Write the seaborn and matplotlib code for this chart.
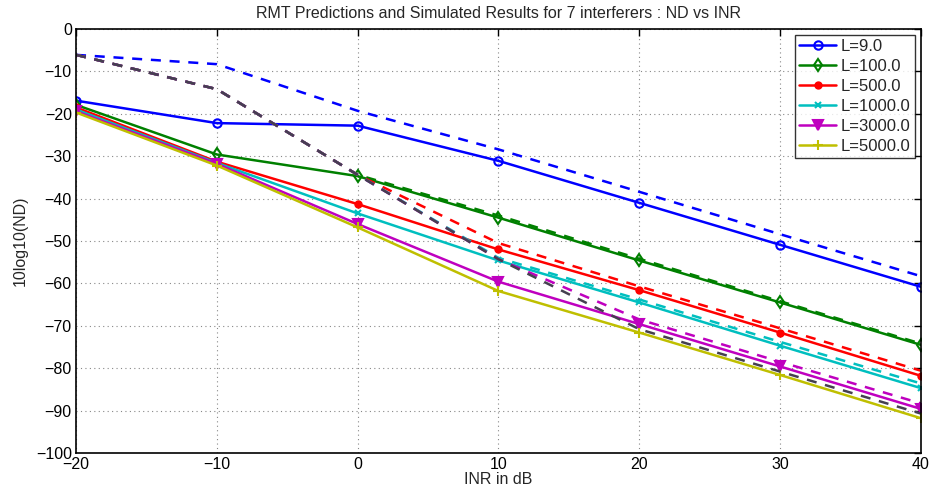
import matplotlib
matplotlib.use("Agg")
import matplotlib.pyplot as plt
import seaborn as sns
import numpy as np

sns.set_style("white")
plt.rcParams['font.family'] = ['Liberation Sans', 'DejaVu Sans']

inr = [-20, -10, 0, 10, 20, 30, 40]
labels = ["L=9.0", "L=100.0", "L=500.0", "L=1000.0", "L=3000.0", "L=5000.0"]

sim_L9 = [-16.9, -22.2, -22.8, -31.1, -41.0, -50.9, -60.8]
sim_L100 = [-17.9, -29.6, -34.7, -44.5, -54.6, -64.5, -74.5]
sim_L500 = [-18.5, -31.3, -41.3, -52.0, -61.6, -71.6, -81.8]
sim_L1000 = [-19.0, -31.6, -43.5, -54.6, -64.5, -74.7, -84.7]
sim_L3000 = [-19.4, -31.8, -46.0, -59.6, -69.6, -79.6, -89.6]
sim_L5000 = [-19.7, -32.2, -46.8, -61.8, -71.6, -81.6, -91.8]

rmt_L9 = [-6.1, -8.3, -19.3, -28.4, -38.4, -48.4, -58.3]
rmt_L100 = [-6.1, -14.2, -34.4, -44.0, -54.2, -64.2, -74.2]
rmt_L500 = [-6.1, -14.2, -34.4, -50.5, -60.7, -70.6, -80.6]
rmt_L1000 = [-6.1, -14.2, -34.4, -54.0, -63.8, -73.8, -83.6]
rmt_L3000 = [-6.1, -14.2, -34.4, -54.3, -68.5, -78.5, -88.3]
rmt_L5000 = [-6.1, -14.2, -34.4, -54.3, -70.8, -80.8, -90.7]

sims = [sim_L9, sim_L100, sim_L500, sim_L1000, sim_L3000, sim_L5000]
rmts = [rmt_L9, rmt_L100, rmt_L500, rmt_L1000, rmt_L3000, rmt_L5000]
colors = ["#0000FF", "#008000", "#FF0000", "#00BFBF", "#BF00BF", "#BFBF00"]
dash_colors = ["#0000FF", "#008000", "#FF0000", "#00BFBF", "#BF00BF", "#454050"]
markers = ["o", "d", "o", "x", "v", "+"]
msizes = [6, 6, 4.5, 4.5, 7, 7]
mfaces = ["none", "none", "#FF0000", "#00BFBF", "#BF00BF", "#BFBF00"]

fig = plt.figure(figsize=(9.33, 4.98), dpi=100)
ax = fig.add_axes([0.0815, 0.0904, 0.9055, 0.8514])

for y, c, m, ms, mf, lab in zip(sims, colors, markers, msizes, mfaces, labels):
    sns.lineplot(x=inr, y=y, ax=ax, color=c, marker=m, markersize=ms,
                 markerfacecolor=mf, markeredgecolor=c, markeredgewidth=1.5,
                 linewidth=1.8, label=lab)

for y, c in zip(rmts, dash_colors):
    sns.lineplot(x=inr, y=y, ax=ax, color=c, linewidth=1.8,
                 linestyle=(0, (4, 3.5)), legend=False)

ax.set_xlim(-20, 40)
ax.set_ylim(-100, 0)
ax.set_xticks(np.arange(-20, 41, 10))
ax.set_yticks(np.arange(-100, 1, 10))
ax.set_xticklabels([f"\u2212{abs(v)}" if v < 0 else str(v) for v in range(-20, 41, 10)])
ax.set_yticklabels([f"\u2212{abs(v)}" if v < 0 else str(v) for v in range(-100, 1, 10)])
ax.grid(True, linestyle=(0, (1, 3)), color="#888888", linewidth=0.8)
ax.tick_params(direction="in", length=5, width=1, top=True, right=True,
               labelsize=11.5, colors="black", pad=3)
for s in ax.spines.values():
    s.set_color("black")
    s.set_linewidth(1.2)

ax.set_title("RMT Predictions and Simulated Results for 7 interferers : ND vs INR",
             fontsize=11.5, pad=8)
ax.set_xlabel("INR in dB", fontsize=11.5, labelpad=0)
ax.set_ylabel("10log10(ND)", fontsize=11.5, labelpad=6)

leg = ax.legend(loc="upper right", fontsize=12, frameon=True, fancybox=False,
                edgecolor="black", borderpad=0.25, labelspacing=0.3,
                handlelength=2.2, handletextpad=0.3, borderaxespad=0.35)
leg.get_frame().set_linewidth(1.0)

fig.savefig("out.png", dpi=100)
